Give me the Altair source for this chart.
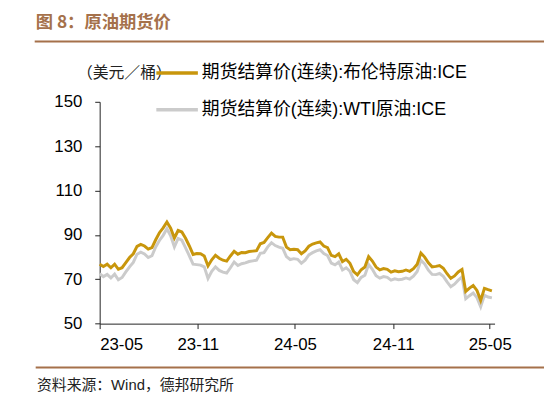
import altair as alt
import pandas as pd

# ---- data (weekly) ----
start_date = "2023-05-22"
n_weeks = 106
brent = [
    76.8, 75.8, 76.8, 75.2, 76.8, 74.5, 75.2, 77.5, 79.8, 81.5,
    84.8, 85.7, 85.0, 83.6, 84.3, 87.8, 91.0, 93.2, 95.8, 93.0,
    88.6, 92.0, 91.3, 88.5, 85.0, 81.2, 81.6, 81.5, 80.5, 76.0,
    78.8, 80.8, 79.5, 78.6, 78.2, 80.5, 82.6, 81.3, 82.1, 82.0,
    82.5, 82.7, 82.9, 86.0, 86.6, 88.8, 90.8, 89.3, 89.0, 89.0,
    84.5, 83.3, 83.5, 83.3, 81.5, 82.8, 84.9, 85.9, 86.4, 86.8,
    85.0, 84.3, 80.8, 80.2, 81.5, 78.0, 79.0, 77.2, 73.5, 72.0,
    74.3, 75.5, 80.2, 78.2, 75.5, 74.2, 74.8, 74.5, 73.2, 73.8,
    73.4, 73.6, 74.2, 73.6, 74.8, 76.8, 81.8, 80.0, 77.4, 75.6,
    75.8, 76.2, 75.0, 72.5, 70.4, 71.5, 73.3, 74.4, 64.5, 66.0,
    67.2, 65.0, 60.5, 65.9, 65.3, 64.8,
]
wti = [
    72.5, 71.2, 72.2, 70.6, 72.3, 69.8, 70.8, 73.3, 75.6, 77.6,
    81.3, 82.2, 81.4, 79.8, 80.6, 84.6, 87.5, 89.8, 92.8, 89.6,
    84.6, 88.4, 87.6, 84.2, 80.6, 76.8, 76.6, 76.4, 75.6, 70.4,
    73.6, 75.6, 74.0, 73.2, 72.8, 75.2, 77.8, 76.2, 77.0, 77.4,
    78.0, 78.3, 78.6, 81.7, 82.0, 84.6, 86.5, 85.2, 84.5, 84.0,
    80.2, 78.9, 79.3, 79.0, 77.2, 78.6, 81.0, 82.0, 82.8, 83.3,
    81.6, 80.7, 77.3, 76.5, 77.8, 74.2, 75.2, 73.6, 69.8, 68.5,
    70.8, 71.8, 76.6, 74.5, 71.6, 70.5, 71.2, 70.9, 69.6, 70.2,
    69.8, 70.0, 70.6, 70.1, 71.4, 73.5, 78.6, 76.9, 74.1, 72.2,
    72.1, 72.6, 71.3, 68.8, 66.6, 67.8, 69.6, 71.0, 61.2, 62.6,
    63.8, 61.7, 57.6, 62.8, 62.0, 61.6,
]
series_names = ["期货结算价(连续):布伦特原油:ICE", "期货结算价(连续):WTI原油:ICE"]
y_ticks = [50, 70, 90, 110, 130, 150]
x_ticks = [(2023, 5, 22), (2023, 11, 22), (2024, 5, 22), (2024, 11, 22), (2025, 5, 22)]
title_text = "图 8：原油期货价"
unit_text = "（美元／桶）"
source_text = "资料来源：Wind，德邦研究所"

dates = pd.date_range(start_date, periods=n_weeks, freq="7D").strftime("%Y-%m-%d")
df_b = pd.DataFrame({"date": dates, "value": brent})
df_w = pd.DataFrame({"date": dates, "value": wti})

GOLD = "#C8960C"
GRAY = "#CBCBCB"
BROWN = "#A5714B"
FONT = "Liberation Sans, Noto Sans CJK SC"

xscale = alt.Scale(domain=[alt.DateTime(year=2023, month=5, date=22),
                           alt.DateTime(year=2025, month=5, date=31)])
yscale = alt.Scale(domain=[50, 150], nice=False, zero=False)
xaxis = alt.Axis(values=[alt.DateTime(year=a, month=b, date=c) for a, b, c in x_ticks],
                 format="%y-%m", title=None, grid=False)
yaxis = alt.Axis(values=y_ticks, title=None, grid=False)

line_w = alt.Chart(df_w).mark_line(color=GRAY, strokeWidth=3).encode(
    x=alt.X("date:T", scale=xscale, axis=xaxis),
    y=alt.Y("value:Q", scale=yscale, axis=yaxis),
)
line_b = alt.Chart(df_b).mark_line(color=GOLD, strokeWidth=3).encode(
    x=alt.X("date:T", scale=xscale, axis=xaxis),
    y=alt.Y("value:Q", scale=yscale, axis=yaxis),
)

dummy = pd.DataFrame({"a": [0]})

def txt(s, x, y, size, color="#000", weight="normal", font=FONT):
    return alt.Chart(dummy).mark_text(text=s, align="left", baseline="middle",
                                      fontSize=size, color=color, fontWeight=weight,
                                      font=font).encode(x=alt.value(x), y=alt.value(y))

def rule(x1, x2, y, color, w):
    return alt.Chart(dummy).mark_rule(color=color, strokeWidth=w).encode(
        x=alt.value(x1), x2=alt.value(x2), y=alt.value(y))

deco = [
    txt(title_text, -64.7, -79.5, 17.5, BROWN, "bold", "Noto Sans CJK SC"),
    rule(-65.7, 452, -61.0, BROWN, 2),
    rule(-64.7, 452, 268.6, BROWN, 2),
    txt(source_text, -63.4, 286.5, 15, "#222", "normal", FONT),
    txt(unit_text, -23, -29.2, 16, "#222", "normal", "Noto Sans CJK SC"),
    rule(57.3, 99.3, -29.2, GOLD, 3.5),
    txt(series_names[0], 103.3, -29.2, 18, "#000"),
    rule(57.3, 99.3, 8.0, GRAY, 3.5),
    txt(series_names[1], 103.3, 8.0, 18, "#000"),
]

chart = alt.layer(line_w, line_b, *deco).properties(
    width=399.3, height=224.3,
    autosize=alt.AutoSizeParams(type="none"),
    padding={"left": 92.7, "top": 92.7, "right": 50, "bottom": 70},
).configure_view(stroke=None).configure_axis(
    domainColor="#222", tickColor="#222", tickSize=5, domainWidth=1, tickWidth=1,
    labelFont="Liberation Sans", labelFontSize=17, labelColor="#000",
).configure_axisX(labelPadding=8).configure_axisY(labelPadding=13)

chart.save("out.html", embed_options={"renderer": "svg", "actions": False})
